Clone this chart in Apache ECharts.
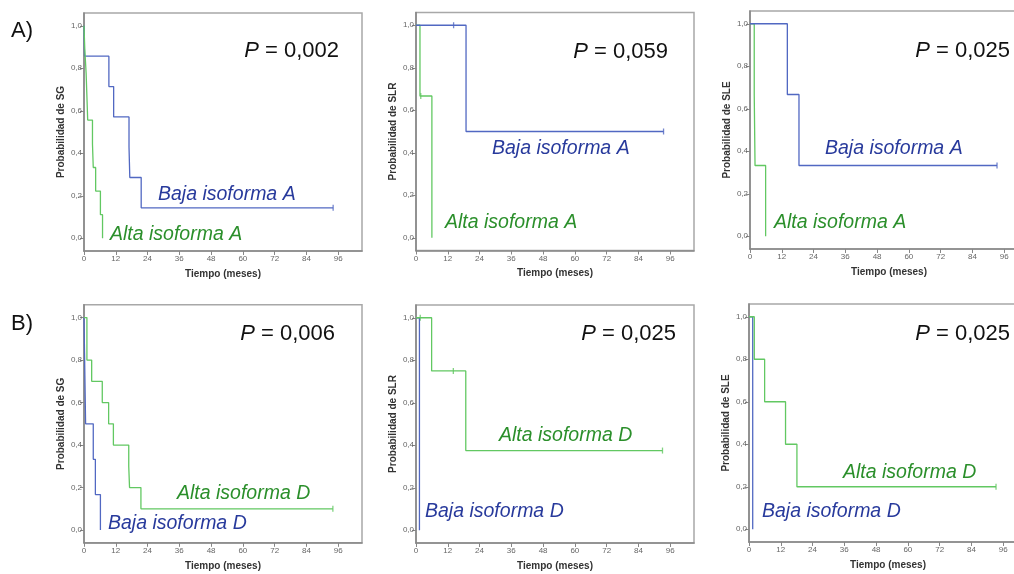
<!DOCTYPE html>
<html>
<head>
<meta charset="utf-8">
<script src="https://cdn.jsdelivr.net/npm/echarts@6/dist/echarts.min.js"></script>
<style>
html,body{margin:0;padding:0;background:#fff;}
#chart{width:1014px;height:574px;}
</style>
</head>
<body>
<div id="chart"></div>
<script>
// ---- tick labels ----
const xTicks = [0, 12, 24, 36, 48, 60, 72, 84, 96];
const yTicks = [0, 0.2, 0.4, 0.6, 0.8, 1.0];
const xTitle = 'Tiempo (meses)';
const yTitles = ['Probabilidad de SG', 'Probabilidad de SLR', 'Probabilidad de SLE',
                 'Probabilidad de SG', 'Probabilidad de SLR', 'Probabilidad de SLE'];
const pValues = ['0,002', '0,059', '0,025', '0,006', '0,025', '0,025'];
const rowLabels = ['A)', 'B)'];

// ---- Row A: isoforma A ----
// SG
const sgA_baja_t = [0, 0.2, 9.4, 11.2, 17.0, 17.3, 21.6, 94.1];
const sgA_baja_s = [1, 0.857, 0.714, 0.571, 0.429, 0.286, 0.143, 0.143];
const sgA_baja_cens = [[94.1, 0.143]];
const sgA_alta_t = [0, 0.3, 0.8, 1.4, 3.2, 3.5, 4.4, 6.2, 7.0];
const sgA_alta_s = [1, 0.889, 0.778, 0.556, 0.444, 0.333, 0.222, 0.111, 0];
const sgA_alta_cens = [];
// SLR
const slrA_baja_t = [0, 18.9, 93.5];
const slrA_baja_s = [1, 0.5, 0.5];
const slrA_baja_cens = [[14.2, 1], [93.5, 0.5]];
const slrA_alta_t = [0, 1.5, 6.0];
const slrA_alta_s = [1, 0.667, 0];
const slrA_alta_cens = [[1.8, 0.667]];
// SLE
const sleA_baja_t = [0, 14.1, 18.5, 93.3];
const sleA_baja_s = [1, 0.667, 0.333, 0.333];
const sleA_baja_cens = [[93.3, 0.333]];
const sleA_alta_t = [0, 1.6, 1.9, 5.9];
const sleA_alta_s = [1, 0.667, 0.333, 0];
const sleA_alta_cens = [];

// ---- Row B: isoforma D ----
// SG
const sgD_alta_t = [0, 1.1, 2.9, 6.9, 9.3, 11.1, 16.9, 17.2, 21.5, 94.0];
const sgD_alta_s = [1, 0.8, 0.7, 0.6, 0.5, 0.4, 0.3, 0.2, 0.1, 0.1];
const sgD_alta_cens = [[94.0, 0.1]];
const sgD_baja_t = [0, 0.2, 0.4, 0.6, 3.5, 4.3, 6.2];
const sgD_baja_s = [1, 0.833, 0.667, 0.5, 0.333, 0.167, 0];
const sgD_baja_cens = [];
// SLR
const slrD_alta_t = [0, 5.9, 18.8, 93.1];
const slrD_alta_s = [1, 0.75, 0.375, 0.375];
const slrD_alta_cens = [[1.6, 1], [14.1, 0.75], [93.1, 0.375]];
const slrD_baja_t = [0, 1.3];
const slrD_baja_s = [1, 0];
const slrD_baja_cens = [];
// SLE
const sleD_alta_t = [0, 2.0, 5.9, 13.8, 18.1, 93.3];
const sleD_alta_s = [1, 0.8, 0.6, 0.4, 0.2, 0.2];
const sleD_alta_cens = [[93.3, 0.2]];
const sleD_baja_t = [0, 1.4];
const sleD_baja_s = [1, 0];
const sleD_baja_cens = [];

// ---- styling / layout ----
const FONT = "'Liberation Sans', Arial, Helvetica, sans-serif";
const BLUE_LINE = '#5168c2';
const GREEN_LINE = '#62c862';
const BLUE_TEXT = '#283a9c';
const GREEN_TEXT = '#2b8f2b';
const AXIS_COLOR = '#878787';

const panels = [
  {left: 84,  top: 13,    curves: [
     {t: sgA_baja_t, s: sgA_baja_s, c: sgA_baja_cens, color: BLUE_LINE},
     {t: sgA_alta_t, s: sgA_alta_s, c: sgA_alta_cens, color: GREEN_LINE}]},
  {left: 416, top: 12.5,  curves: [
     {t: slrA_alta_t, s: slrA_alta_s, c: slrA_alta_cens, color: GREEN_LINE},
     {t: slrA_baja_t, s: slrA_baja_s, c: slrA_baja_cens, color: BLUE_LINE}]},
  {left: 750, top: 11,    curves: [
     {t: sleA_alta_t, s: sleA_alta_s, c: sleA_alta_cens, color: GREEN_LINE},
     {t: sleA_baja_t, s: sleA_baja_s, c: sleA_baja_cens, color: BLUE_LINE}]},
  {left: 84,  top: 304.8, curves: [
     {t: sgD_baja_t, s: sgD_baja_s, c: sgD_baja_cens, color: BLUE_LINE},
     {t: sgD_alta_t, s: sgD_alta_s, c: sgD_alta_cens, color: GREEN_LINE}]},
  {left: 416, top: 305,   curves: [
     {t: slrD_baja_t, s: slrD_baja_s, c: slrD_baja_cens, color: BLUE_LINE},
     {t: slrD_alta_t, s: slrD_alta_s, c: slrD_alta_cens, color: GREEN_LINE}]},
  {left: 749, top: 304,   curves: [
     {t: sleD_baja_t, s: sleD_baja_s, c: sleD_baja_cens, color: BLUE_LINE},
     {t: sleD_alta_t, s: sleD_alta_s, c: sleD_alta_cens, color: GREEN_LINE}]}
];
const GW = 278, GH = 238;

// curve label positions (left x, middle y) and P label (right x, middle y)
const curveLabels = [
  [{text: 'Baja isoforma A', x: 158, y: 195, fill: BLUE_TEXT}, {text: 'Alta isoforma A', x: 110, y: 235, fill: GREEN_TEXT}],
  [{text: 'Baja isoforma A', x: 492, y: 149, fill: BLUE_TEXT}, {text: 'Alta isoforma A', x: 445, y: 223, fill: GREEN_TEXT}],
  [{text: 'Baja isoforma A', x: 825, y: 149, fill: BLUE_TEXT}, {text: 'Alta isoforma A', x: 774, y: 223, fill: GREEN_TEXT}],
  [{text: 'Alta isoforma D', x: 177, y: 494, fill: GREEN_TEXT}, {text: 'Baja isoforma D', x: 108, y: 524, fill: BLUE_TEXT}],
  [{text: 'Alta isoforma D', x: 499, y: 436, fill: GREEN_TEXT}, {text: 'Baja isoforma D', x: 425, y: 512, fill: BLUE_TEXT}],
  [{text: 'Alta isoforma D', x: 843, y: 473, fill: GREEN_TEXT}, {text: 'Baja isoforma D', x: 762, y: 512, fill: BLUE_TEXT}]
];
const pPos = [[339, 51], [668, 52], [1010, 51], [335, 334], [676, 334], [1010, 334]];

const grid = [], xAxis = [], yAxis = [], series = [], graphic = [];
panels.forEach((p, i) => {
  grid.push({left: p.left, top: p.top, width: GW, height: GH, show: true,
    borderColor: '#a8a8a8', borderWidth: 1.5, backgroundColor: 'transparent',
    containLabel: false, outerBoundsMode: 'none'});
  xAxis.push({type: 'value', gridIndex: i, min: 0, max: 105,
    name: xTitle, nameLocation: 'middle', nameGap: 18, nameMoveOverlap: false,
    nameTextStyle: {fontFamily: FONT, fontSize: 10, fontWeight: 'bold', color: '#333'},
    axisLine: {show: true, onZero: false, lineStyle: {color: AXIS_COLOR, width: 1.6}},
    axisTick: {show: true, length: 4, inside: false, customValues: xTicks, lineStyle: {color: AXIS_COLOR, width: 1}},
    axisLabel: {show: true, customValues: xTicks, margin: 4, fontFamily: FONT, fontSize: 8, color: '#666'},
    splitLine: {show: false}});
  yAxis.push({type: 'value', gridIndex: i, min: -0.06, max: 1.06,
    name: yTitles[i], nameLocation: 'middle', nameGap: 18, nameRotate: 90, nameMoveOverlap: false,
    nameTextStyle: {fontFamily: FONT, fontSize: 10, fontWeight: 'bold', color: '#333'},
    axisLine: {show: true, onZero: false, lineStyle: {color: AXIS_COLOR, width: 1.6}},
    axisTick: {show: true, length: 4, inside: false, customValues: yTicks, lineStyle: {color: AXIS_COLOR, width: 1}},
    axisLabel: {show: true, customValues: yTicks, margin: 2, fontFamily: FONT, fontSize: 8, color: '#666',
      formatter: v => v.toFixed(1).replace('.', ',')},
    splitLine: {show: false}});
  p.curves.forEach(cv => {
    series.push({type: 'line', xAxisIndex: i, yAxisIndex: i, step: 'end', symbol: 'none',
      silent: true, animation: false,
      lineStyle: {color: cv.color, width: 1.3},
      data: cv.t.map((t, k) => [t, cv.s[k]])});
    if (cv.c.length) {
      series.push({type: 'scatter', xAxisIndex: i, yAxisIndex: i, symbol: 'rect',
        symbolSize: [1.3, 6], silent: true, animation: false,
        itemStyle: {color: cv.color}, data: cv.c});
    }
  });
  curveLabels[i].forEach(l => {
    graphic.push({type: 'text', x: l.x, y: l.y, silent: true,
      style: {text: l.text, fill: l.fill, fontFamily: FONT, fontSize: 19.5, fontStyle: 'italic',
        textAlign: 'left', textVerticalAlign: 'middle'}});
  });
  graphic.push({type: 'text', x: pPos[i][0], y: pPos[i][1], silent: true,
    style: {text: '{p|P} = ' + pValues[i], fill: '#111', fontFamily: FONT, fontSize: 22,
      textAlign: 'right', textVerticalAlign: 'middle',
      rich: {p: {fontStyle: 'italic', fontFamily: FONT, fontSize: 22, fill: '#111'}}}});
});
graphic.push({type: 'text', x: 11, y: 31, silent: true,
  style: {text: rowLabels[0], fill: '#111', fontFamily: FONT, fontSize: 22, textVerticalAlign: 'middle'}});
graphic.push({type: 'text', x: 11, y: 324, silent: true,
  style: {text: rowLabels[1], fill: '#111', fontFamily: FONT, fontSize: 22, textVerticalAlign: 'middle'}});

const chart = echarts.init(document.getElementById('chart'), null, {renderer: 'canvas'});
chart.setOption({
  animation: false,
  backgroundColor: '#fff',
  grid, xAxis, yAxis, series, graphic
});
</script>
</body>
</html>
